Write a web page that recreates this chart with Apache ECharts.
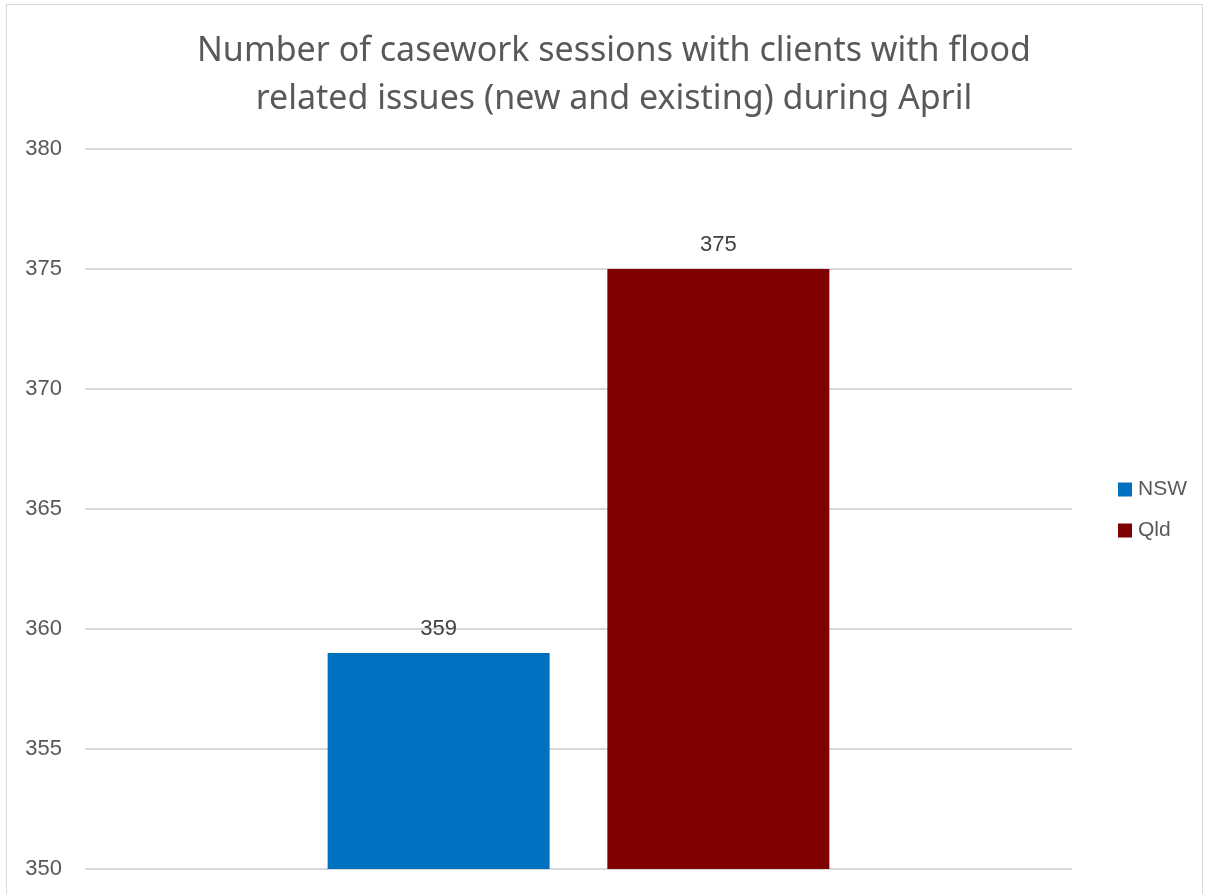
<!DOCTYPE html>
<html>
<head>
<meta charset="utf-8">
<script src="https://cdn.jsdelivr.net/npm/echarts@6/dist/echarts.min.js"></script>
<style>
  html, body { margin: 0; padding: 0; background: #fff; }
  #box { position: absolute; left: 6px; top: 4px; width: 1197px; height: 900px; border: 1px solid #d9d9d9; box-sizing: border-box; }
  #chart { position: absolute; left: 0; top: 0; width: 1209px; height: 894px; }
</style>
</head>
<body>
<div id="box"></div>
<div id="chart"></div>
<script>
// 数据
const categories = ['April'];
const seriesNames = ['NSW', 'Qld'];
const nswValues = [359];
const qldValues = [375];
const colors = ['#0070c0', '#7f0000'];

const chart = echarts.init(document.getElementById('chart'));

const labelStyle = {
  show: true,
  position: 'top',
  distance: 13,
  color: '#404040',
  fontSize: 22,
  fontFamily: 'Liberation Sans, Arial, sans-serif'
};

const option = {
  animation: false,
  title: {
    text: 'Number of casework sessions with clients with flood\nrelated issues (new and existing) during April',
    left: 609,
    textAlign: 'center',
    top: 22,
    textStyle: {
      color: '#595959',
      fontSize: 34,
      fontWeight: 'normal',
      lineHeight: 48,
      fontFamily: 'Noto Sans, Open Sans, sans-serif'
    }
  },
  legend: {
    orient: 'vertical',
    left: 1113,
    top: 474,
    itemWidth: 14,
    itemHeight: 14,
    itemGap: 20,
    icon: 'rect',
    textStyle: {
      color: '#595959',
      fontSize: 21,
      fontFamily: 'Liberation Sans, Arial, sans-serif',
      padding: [0, 0, 0, 1]
    },
    data: seriesNames
  },
  grid: {
    left: 85,
    right: 137,
    top: 149,
    bottom: 25,
    containLabel: false
  },
  xAxis: {
    type: 'category',
    data: categories,
    axisLine: { show: false },
    axisTick: { show: false },
    axisLabel: { show: false }
  },
  yAxis: {
    type: 'value',
    min: 350,
    max: 380,
    interval: 5,
    axisLine: { show: false },
    axisTick: { show: false },
    axisLabel: {
      color: '#595959',
      fontSize: 22,
      fontFamily: 'Liberation Sans, Arial, sans-serif',
      margin: 23,
      align: 'right'
    },
    splitLine: { lineStyle: { color: '#d9d9d9', width: 2 } }
  },
  series: [
    {
      name: seriesNames[0],
      type: 'bar',
      data: nswValues,
      barWidth: 222,
      barGap: '26%',
      itemStyle: { color: colors[0] },
      label: labelStyle
    },
    {
      name: seriesNames[1],
      type: 'bar',
      data: qldValues,
      barWidth: 222,
      barGap: '26%',
      itemStyle: { color: colors[1] },
      label: labelStyle
    }
  ]
};

chart.setOption(option);
</script>
</body>
</html>
